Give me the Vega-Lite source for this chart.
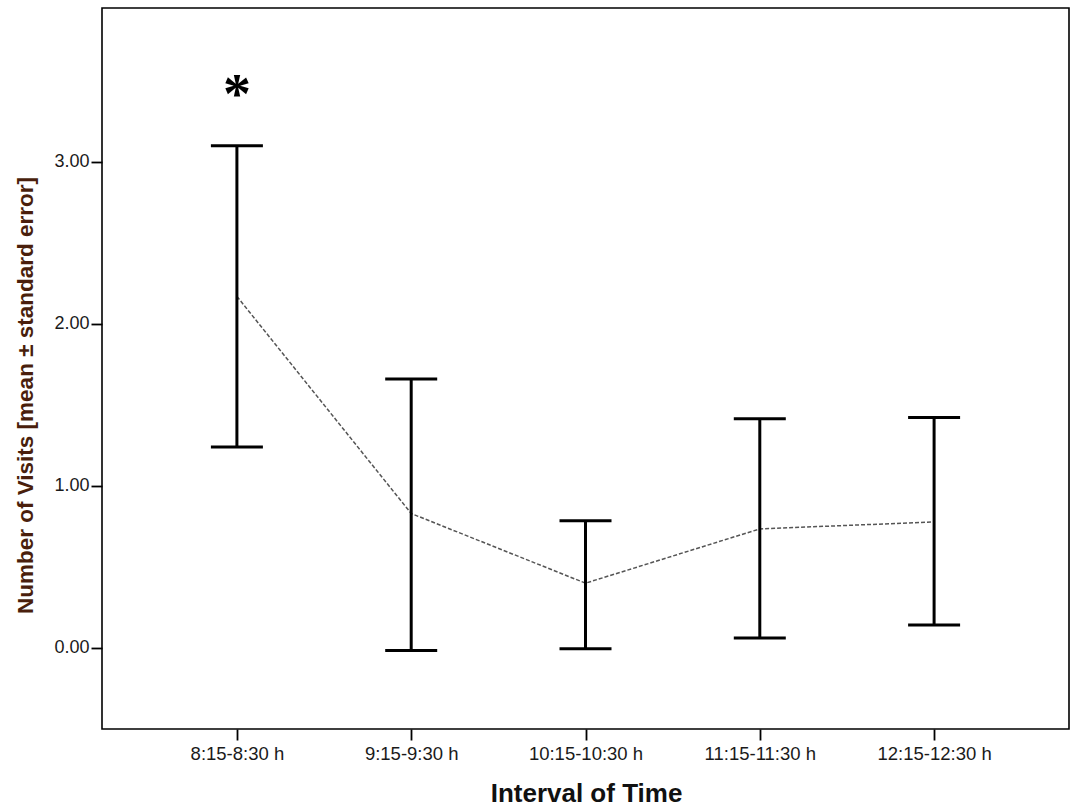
{
  "$schema": "https://vega.github.io/schema/vega-lite/v6.json",
  "width": 967,
  "height": 721,
  "autosize": "none",
  "padding": {"left": 102, "top": 8, "right": 4, "bottom": 78},
  "background": "white",
  "config": {
    "view": {"stroke": "black", "strokeWidth": 1.6},
    "axis": {"grid": false, "domain": false, "tickColor": "black", "tickWidth": 1.8, "tickSize": 11, "labelFont": "Liberation Sans", "labelColor": "#1a1a1a"}
  },
  "datasets": {
    "stats": [
      {"interval": "8:15-8:30 h", "mean": 2.17, "lower": 1.24, "upper": 3.10},
      {"interval": "9:15-9:30 h", "mean": 0.83, "lower": -0.015, "upper": 1.66},
      {"interval": "10:15-10:30 h", "mean": 0.40, "lower": -0.005, "upper": 0.785},
      {"interval": "11:15-11:30 h", "mean": 0.735, "lower": 0.062, "upper": 1.415},
      {"interval": "12:15-12:30 h", "mean": 0.778, "lower": 0.142, "upper": 1.423}
    ],
    "marks": [
      {"interval": "8:15-8:30 h", "label": "*", "pos": 3.3}
    ]
  },
  "encoding": {
    "x": {
      "field": "interval", "type": "nominal", "sort": null,
      "scale": {"type": "point", "padding": 0.774},
      "axis": {
        "labelAngle": 0, "labelFontSize": 18.5, "labelPadding": 4,
        "title": "Interval of Time", "titleFont": "Liberation Sans", "titleFontWeight": "bold",
        "titleFontSize": 26, "titleColor": "#111", "titleX": 484, "titleY": 64,
        "titleBaseline": "middle", "titleAnchor": "middle", "titleAlign": "center"
      }
    }
  },
  "layer": [
    {
      "data": {"name": "stats"},
      "mark": {"type": "line", "color": "#555", "strokeWidth": 1.5, "strokeDash": [4, 2]},
      "encoding": {
        "y": {
          "field": "mean", "type": "quantitative",
          "scale": {"domain": [-0.5, 3.95], "nice": false, "zero": false},
          "axis": {
            "values": [0, 1, 2, 3], "format": ".2f", "labelFontSize": 18, "labelPadding": 2,
            "title": "Number of Visits [mean ± standard error]", "titleFont": "Liberation Sans",
            "titleFontWeight": "bold", "titleFontSize": 22.5, "titleColor": "#4a1f0c",
            "titleX": -77, "titleY": 387, "titleAngle": 270, "titleBaseline": "middle",
            "titleAlign": "center", "titleAnchor": "middle"
          }
        }
      }
    },
    {
      "data": {"name": "stats"},
      "mark": {"type": "rule", "color": "black", "strokeWidth": 3},
      "encoding": {
        "y": {"field": "lower", "type": "quantitative"},
        "y2": {"field": "upper"}
      }
    },
    {
      "data": {"name": "stats"},
      "mark": {"type": "tick", "color": "black", "thickness": 3, "size": 52, "opacity": 1},
      "encoding": {"y": {"field": "upper", "type": "quantitative"}}
    },
    {
      "data": {"name": "stats"},
      "mark": {"type": "tick", "color": "black", "thickness": 3, "size": 52, "opacity": 1},
      "encoding": {"y": {"field": "lower", "type": "quantitative"}}
    },
    {
      "data": {"name": "marks"},
      "mark": {"type": "text", "font": "Liberation Serif", "fontWeight": "bold", "fontSize": 56, "color": "black", "baseline": "alphabetic", "align": "center"},
      "encoding": {
        "y": {"field": "pos", "type": "quantitative"},
        "text": {"field": "label"}
      }
    }
  ]
}
